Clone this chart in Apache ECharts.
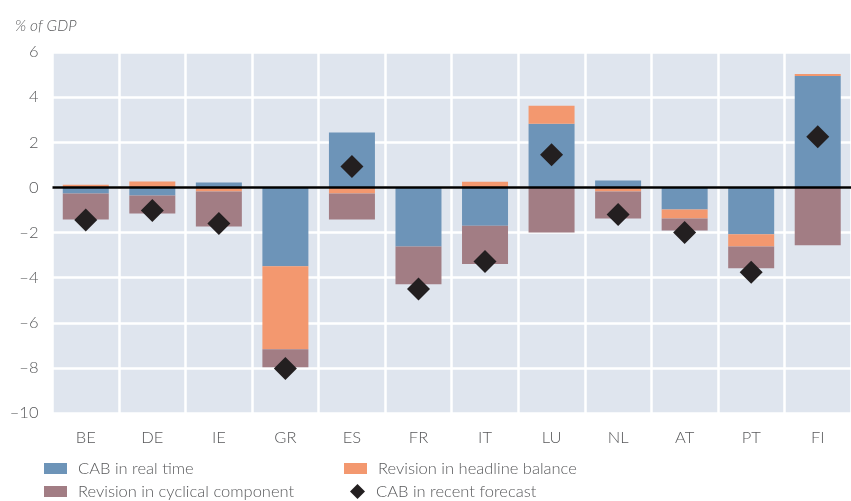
<!DOCTYPE html>
<html>
<head>
<meta charset="utf-8">
<script src="https://cdn.jsdelivr.net/npm/echarts@6/dist/echarts.min.js"></script>
<style>
html,body{margin:0;padding:0;background:#fff;}
#c{width:851px;height:501px;}
</style>
</head>
<body>
<div id="c"></div>
<script>
const categories = ['BE','DE','IE','GR','ES','FR','IT','LU','NL','AT','PT','FI'];
const cabRealTime = [-0.27,-0.36,0.22,-3.5,2.43,-2.62,-1.7,2.82,0.3,-0.98,-2.08,4.94];
const revHeadline = [0.12,0.26,-0.18,-3.67,-0.27,0,0.25,0.8,-0.18,-0.4,-0.54,0.09];
const revCyclical = [-1.15,-0.8,-1.55,-0.8,-1.15,-1.67,-1.7,-2.0,-1.2,-0.53,-0.97,-2.56];
const cabRecent = [-1.45,-1.03,-1.6,-8.03,0.92,-4.5,-3.29,1.45,-1.2,-2.0,-3.76,2.24];
const yTicks = [-10,-8,-6,-4,-2,0,2,4,6];

const FONT = 'Lato';
const TXT = '#58595b';
const FS = 16.5;
const chart = echarts.init(document.getElementById('c'), null, {renderer:'canvas'});

function legendRow(name, left, top, iw, ih, icon){
  return {
    data:[icon ? {name:name, icon:icon} : {name:name}],
    left:left, top:top, orient:'horizontal',
    itemWidth:iw, itemHeight:ih, padding:0,
    textStyle:{fontFamily:FONT,fontWeight:300,fontSize:FS,color:TXT,lineHeight:17,padding:[0,0,0,6]},
    selectedMode:false
  };
}

chart.setOption({
  animation:false,
  title:{text:'% of GDP',left:10,top:13,textStyle:{fontFamily:FONT,fontStyle:'italic',fontWeight:300,fontSize:15.5,color:TXT}},
  grid:{left:52.5,top:52,width:809.5,height:361,show:true,backgroundColor:'#dfe5ee',borderWidth:0},
  legend:[
    legendRow('CAB in real time',44,460,23,11,'rect'),
    legendRow('Revision in cyclical component',44,483,23,11,'rect'),
    legendRow('Revision in headline balance',344,460,23,11,'rect'),
    legendRow('CAB in recent forecast',350,483,15,15,'diamond')
  ],
  xAxis:{
    type:'category',data:categories,
    axisLine:{show:false,onZero:false},axisTick:{show:false},
    axisLabel:{fontFamily:FONT,fontWeight:300,fontSize:FS,color:TXT,margin:16},
    splitLine:{show:true,lineStyle:{color:'#ffffff',width:2.5}}
  },
  yAxis:{
    type:'value',min:yTicks[0],max:yTicks[yTicks.length-1],interval:2,
    axisLine:{show:false},axisTick:{show:false},
    axisLabel:{fontFamily:FONT,fontWeight:300,fontSize:FS,color:TXT,margin:14,
      formatter:v=>v<0?'\u2013'+Math.abs(v):String(v)},
    splitLine:{show:true,lineStyle:{color:'#ffffff',width:2.5}}
  },
  series:[
    {name:'CAB in real time',type:'bar',stack:'s',barWidth:46,data:cabRealTime,itemStyle:{color:'#6d94b8'}},
    {name:'Revision in headline balance',type:'bar',stack:'s',barWidth:46,data:revHeadline,itemStyle:{color:'#f3986f'}},
    {name:'Revision in cyclical component',type:'bar',stack:'s',barWidth:46,data:revCyclical,itemStyle:{color:'#a27d84'},
      markLine:{silent:true,symbol:'none',label:{show:false},lineStyle:{color:'#000',width:2.5,type:'solid'},data:[{yAxis:0}]}},
    {name:'CAB in recent forecast',type:'scatter',symbol:'diamond',symbolSize:23,data:cabRecent,itemStyle:{color:'#231f20',opacity:1},z:10}
  ]
});
</script>
</body>
</html>
